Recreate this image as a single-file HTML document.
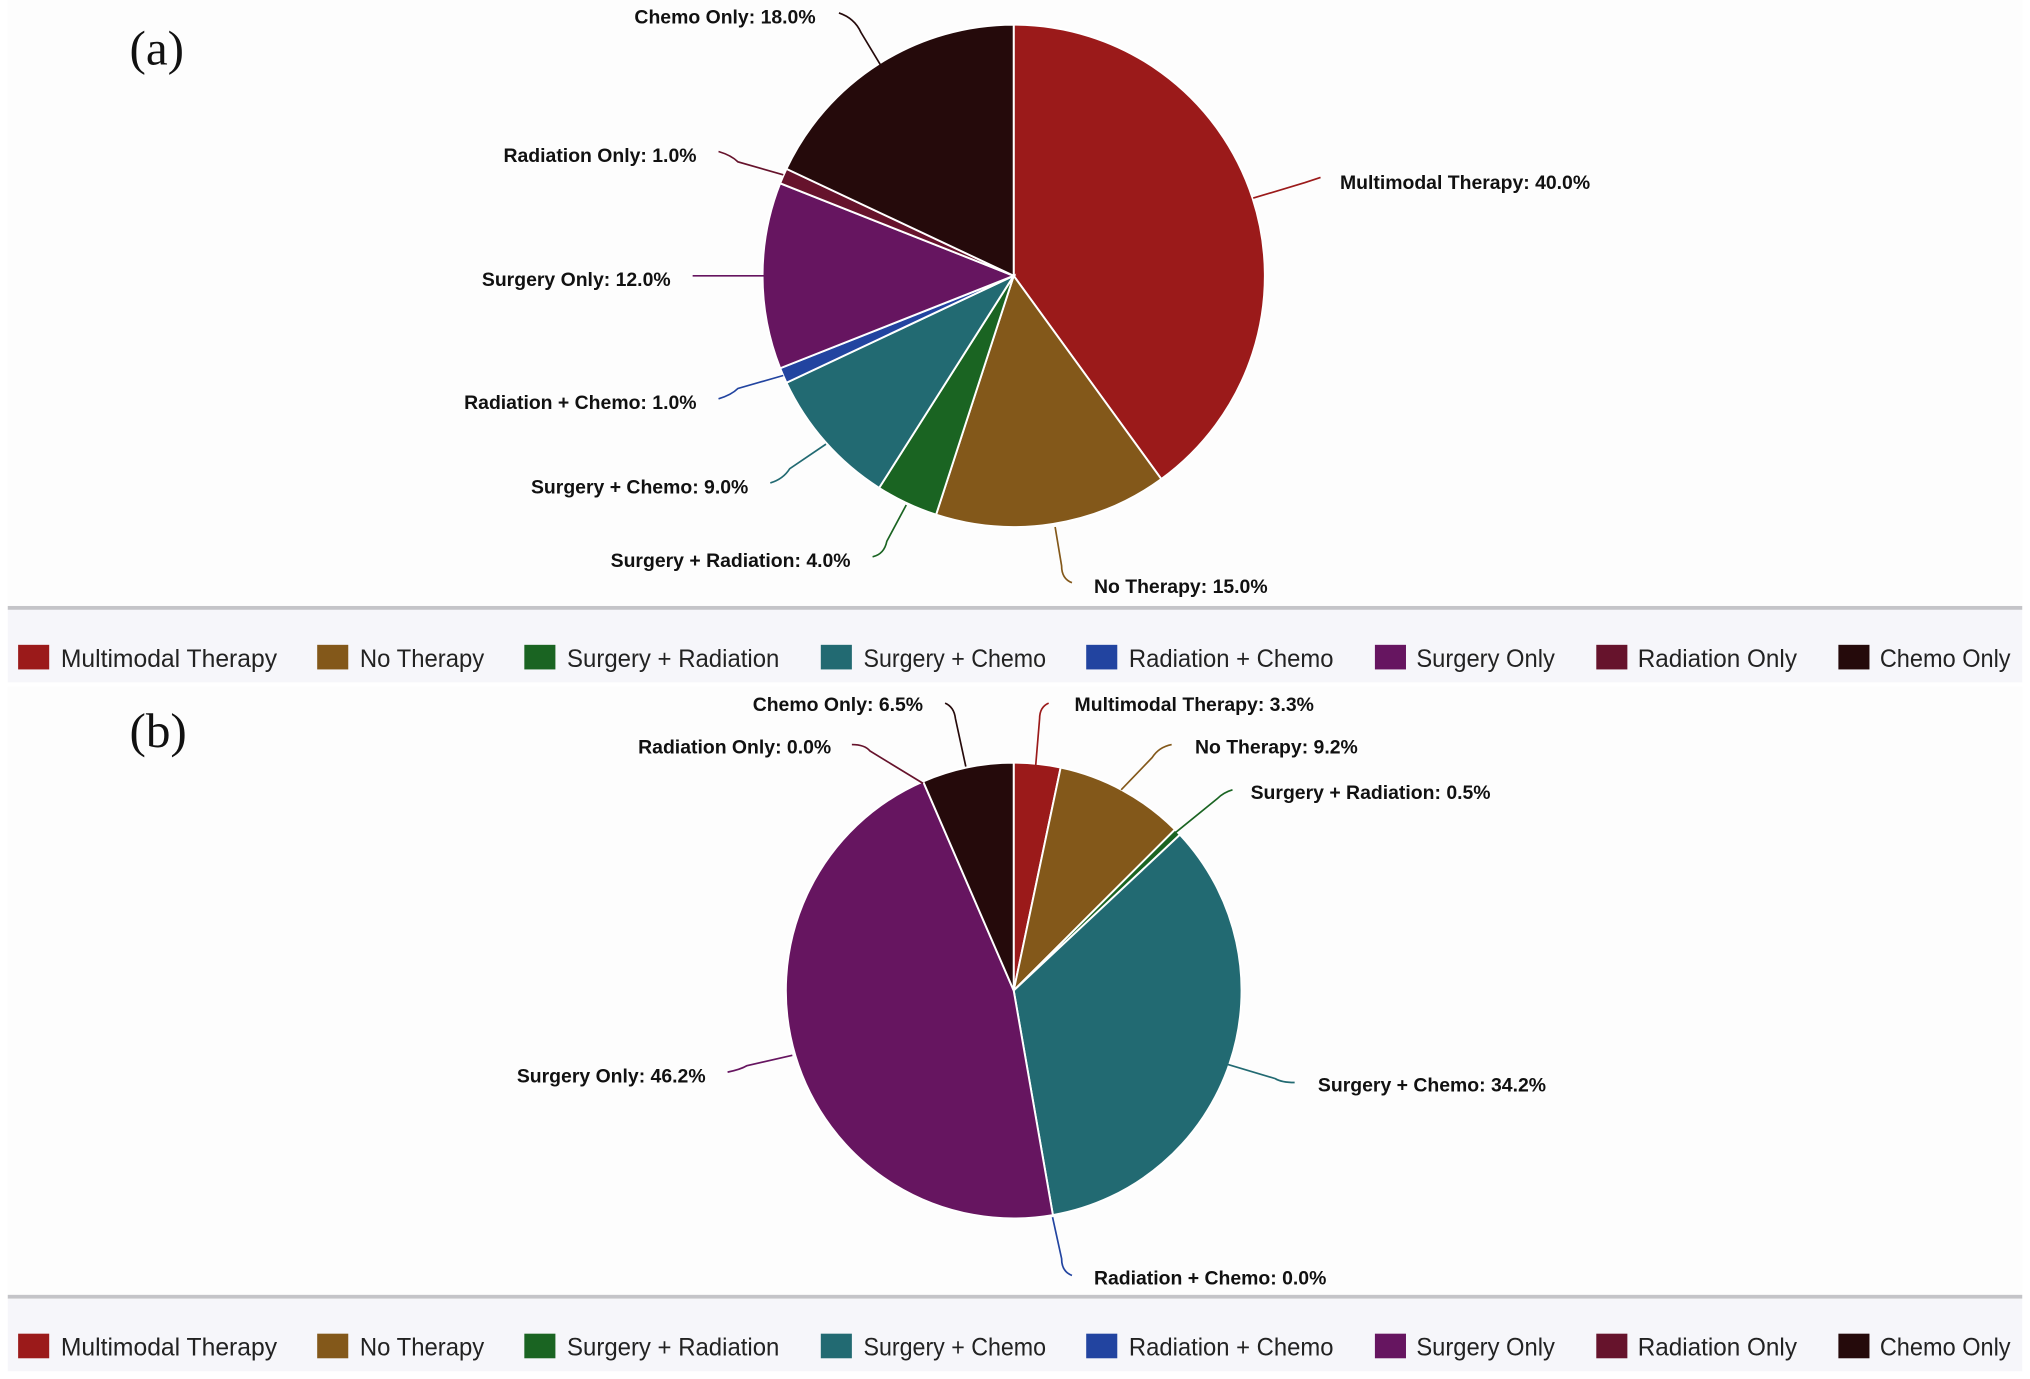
<!DOCTYPE html>
<html><head><meta charset="utf-8"><style>
html,body{margin:0;padding:0;background:#fff}
svg{display:block}
text{font-family:"Liberation Sans",Arial,sans-serif}
.l{font-size:15px;font-weight:bold;fill:#111}
.g{font-size:19px;fill:#222}
.p{font-family:"Liberation Serif",serif;font-size:38px;fill:#111}
</style></head><body>
<svg id="s" width="2030" height="1379" viewBox="0 0 1568 1065" preserveAspectRatio="none" xmlns="http://www.w3.org/2000/svg">
<rect x="0" y="0" width="1568" height="1065" fill="#fff"/>
<rect x="6" y="0" width="1556" height="468" fill="#fdfdfd"/>
<rect x="6" y="468" width="1556" height="3" fill="#c4c4c8"/>
<rect x="6" y="471" width="1556" height="56" fill="#f6f6fa"/>
<rect x="6" y="530" width="1556" height="470" fill="#fdfdfd"/>
<rect x="6" y="1000" width="1556" height="3" fill="#c4c4c8"/>
<rect x="6" y="1003" width="1556" height="56" fill="#f6f6fa"/>
<text class="p" x="100" y="50">(a)</text>
<text class="p" x="100" y="577">(b)</text>
<g id="pa"></g><g id="pb"></g>
<g fill="none" stroke-width="1.3">
<path d="M648,10 Q660,14 665,25 L680,50" stroke="#250a0b"/>
<path d="M1020,137 L1008,141 L968,153" stroke="#9b1a1a"/>
<path d="M555,117 Q565,120 570,125 L605,135" stroke="#66132c"/>
<path d="M535,213 L590,213" stroke="#661560"/>
<path d="M555,308 Q565,305 570,300 L605,290" stroke="#2244a0"/>
<path d="M595,373 Q605,370 610,362 L638,343" stroke="#226a72"/>
<path d="M674,430 Q683,428 685,418 L700,390" stroke="#1a6422"/>
<path d="M828,450 Q820,447 820,437 L815,407" stroke="#83581a"/>
<path d="M730,543 Q737,546 738,555 L746,592" stroke="#250a0b"/>
<path d="M810,543 Q803,546 803,555 L800,591" stroke="#9b1a1a"/>
<path d="M658,575 Q668,575 672,580 L713,605" stroke="#66132c"/>
<path d="M905,575 Q895,577 890,585 L866,610" stroke="#83581a"/>
<path d="M952,610 Q945,612 940,617 L908,643" stroke="#1a6422"/>
<path d="M1000,836 Q990,836 985,833 L948,822" stroke="#226a72"/>
<path d="M562,828 Q572,826 577,823 L612,815" stroke="#661560"/>
<path d="M828,985 Q820,982 820,972 L813,940" stroke="#2244a0"/>
</g>
<text class="l" x="630" y="18" text-anchor="end">Chemo Only: 18.0%</text>
<text class="l" x="1035" y="146">Multimodal Therapy: 40.0%</text>
<text class="l" x="538" y="125" text-anchor="end">Radiation Only: 1.0%</text>
<text class="l" x="518" y="221" text-anchor="end">Surgery Only: 12.0%</text>
<text class="l" x="538" y="316" text-anchor="end">Radiation + Chemo: 1.0%</text>
<text class="l" x="578" y="381" text-anchor="end">Surgery + Chemo: 9.0%</text>
<text class="l" x="657" y="438" text-anchor="end">Surgery + Radiation: 4.0%</text>
<text class="l" x="845" y="458">No Therapy: 15.0%</text>
<text class="l" x="713" y="549" text-anchor="end">Chemo Only: 6.5%</text>
<text class="l" x="830" y="549">Multimodal Therapy: 3.3%</text>
<text class="l" x="642" y="582" text-anchor="end">Radiation Only: 0.0%</text>
<text class="l" x="923" y="582">No Therapy: 9.2%</text>
<text class="l" x="966" y="617">Surgery + Radiation: 0.5%</text>
<text class="l" x="1018" y="843">Surgery + Chemo: 34.2%</text>
<text class="l" x="545" y="836" text-anchor="end">Surgery Only: 46.2%</text>
<text class="l" x="845" y="992">Radiation + Chemo: 0.0%</text>
<g id="lg"></g>
</svg>
<script>
var C=["#9b1a1a","#83581a","#1a6422","#226a72","#2244a0","#661560","#66132c","#250a0b"];
var N=["Multimodal Therapy","No Therapy","Surgery + Radiation","Surgery + Chemo","Radiation + Chemo","Surgery Only","Radiation Only","Chemo Only"];
var NS="http://www.w3.org/2000/svg";
function pie(id,cx,cy,r,v){var g=document.getElementById(id),a=0,t=v.reduce(function(x,y){return x+y},0);
v.forEach(function(p,i){if(p<=0)return;var b=a+p/t*2*Math.PI;
var x1=cx+r*Math.sin(a),y1=cy-r*Math.cos(a),x2=cx+r*Math.sin(b),y2=cy-r*Math.cos(b);
var e=document.createElementNS(NS,"path");
e.setAttribute("d","M"+cx+","+cy+" L"+x1+","+y1+" A"+r+","+r+" 0 "+((b-a)>Math.PI?1:0)+" 1 "+x2+","+y2+" Z");
e.setAttribute("fill",C[i]);e.setAttribute("stroke","#fff");e.setAttribute("stroke-width","1.5");g.appendChild(e);a=b;});}
pie("pa",783,213,194,[40,15,4,9,1,12,1,18]);
pie("pb",783,765,176,[3.3,9.2,0.5,34.2,0,46.2,0,6.5]);
var sx=[14,245,405,634,839,1062,1233,1420],tx=[47,278,438,667,872,1094,1265,1452],lg=document.getElementById("lg");
[508,1040].forEach(function(y){for(var i=0;i<8;i++){var r=document.createElementNS(NS,"rect");
r.setAttribute("x",sx[i]);r.setAttribute("y",y-10);r.setAttribute("width",24);r.setAttribute("height",19);r.setAttribute("fill",C[i]);lg.appendChild(r);
var t=document.createElementNS(NS,"text");t.setAttribute("x",tx[i]);t.setAttribute("y",y+7);t.setAttribute("class","g");t.setAttribute("textLength",[167,96,164,141,158,107,123,101][i]);t.setAttribute("lengthAdjust","spacingAndGlyphs");t.textContent=N[i];lg.appendChild(t);}});
</script>
</body></html>
